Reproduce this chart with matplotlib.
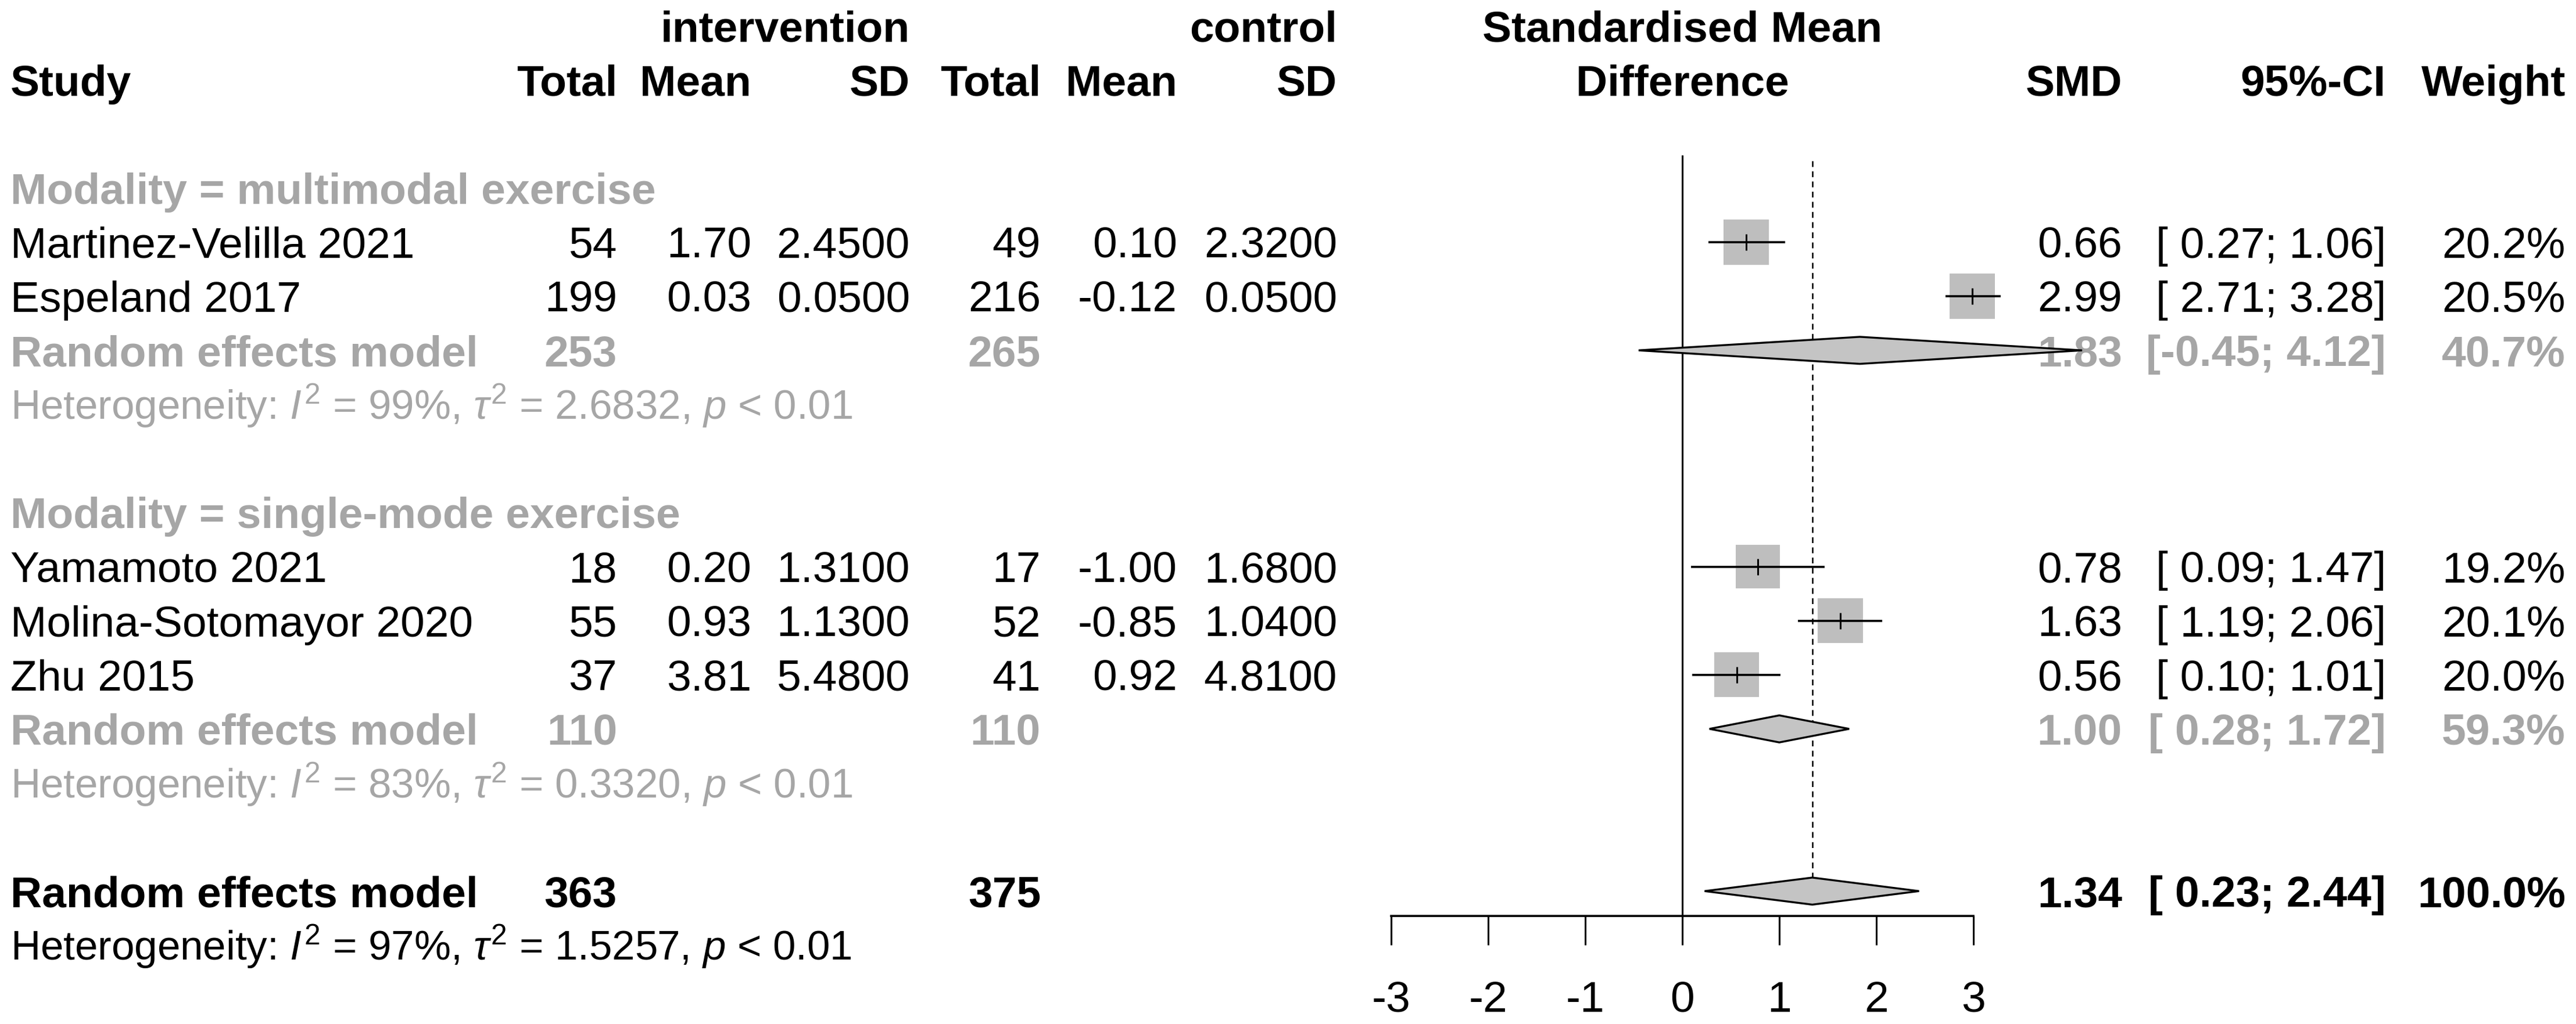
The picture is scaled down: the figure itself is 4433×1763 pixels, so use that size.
import matplotlib
matplotlib.use("Agg")
import matplotlib.pyplot as plt
from matplotlib.patches import Polygon

plt.rcParams['font.family'] = ['Liberation Sans', 'DejaVu Sans']
plt.rcParams['mathtext.fontset'] = 'custom'
plt.rcParams['mathtext.rm'] = 'Liberation Sans'
plt.rcParams['mathtext.it'] = 'Liberation Sans:italic'
plt.rcParams['mathtext.bf'] = 'Liberation Sans:bold'

# ---------------- data ----------------
studies = ["Martinez-Velilla 2021", "Espeland 2017",
           "Yamamoto 2021", "Molina-Sotomayor 2020", "Zhu 2015"]
study_group = [0, 0, 1, 1, 1]
n_int = [54, 199, 18, 55, 37]
mean_int = [1.70, 0.03, 0.20, 0.93, 3.81]
sd_int = [2.45, 0.05, 1.31, 1.13, 5.48]
n_ctl = [49, 216, 17, 52, 41]
mean_ctl = [0.10, -0.12, -1.00, -0.85, 0.92]
sd_ctl = [2.32, 0.05, 1.68, 1.04, 4.81]
smd = [0.66, 2.99, 0.78, 1.63, 0.56]
ci_lo = [0.27, 2.71, 0.09, 1.19, 0.10]
ci_hi = [1.06, 3.28, 1.47, 2.06, 1.01]
weight = [20.2, 20.5, 19.2, 20.1, 20.0]

groups = ["multimodal exercise", "single-mode exercise"]
grp_n_int = [253, 110]
grp_n_ctl = [265, 110]
grp_smd = [1.83, 1.00]
grp_lo = [-0.45, 0.28]
grp_hi = [4.12, 1.72]
grp_weight = [40.7, 59.3]
grp_I2 = [99, 83]
grp_tau2 = ["2.6832", "0.3320"]

tot_n_int = 363
tot_n_ctl = 375
tot_smd = 1.34
tot_lo = 0.23
tot_hi = 2.44
tot_weight = 100.0
tot_I2 = 97
tot_tau2 = "1.5257"

xticks = [-3, -2, -1, 0, 1, 2, 3]

# ---------------- layout ----------------
W, H, DPI = 4433, 1763, 100
ROW_PX = 93.1
ROW0_PX = 323.9          # pixel y of row 0
y_top = (0 - ROW0_PX) / ROW_PX
y_bot = (H - ROW0_PX) / ROW_PX

GRAY_TXT = '#A6A6A6'
SQ_COL = '#BEBEBE'
DIA_COL = '#C4C4C4'
FS = 54
FS_HET = 51

fig = plt.figure(figsize=(W / DPI, H / DPI), dpi=DPI)
tab = fig.add_axes([0, 0, 1, 1])
tab.set_xlim(0, W)
tab.set_ylim(y_bot, y_top)
tab.axis('off')


def capoff(size):
    return 0.716 * size * DPI / 72 / 2 / ROW_PX


def txt(x, r, s, ha='left', bold=False, color='black', size=FS):
    tab.text(x, r + capoff(size), s, ha=ha, va='baseline', fontsize=size,
             fontweight='bold' if bold else 'normal', color=color)


# column x positions (pixels, right edges unless noted)
X_STUDY = 18
X_NI, X_MI, X_SI = 1062, 1293, 1566
X_NC, X_MC, X_SC = 1791, 2026, 2301
X_SMD, X_CI, X_W = 3652, 4106, 4415
X_PLOT_C = 2895


def ci_str(lo, hi):
    return "[" + (" " if lo >= 0 else "") + f"{lo:.2f}; {hi:.2f}]"


# headers
txt(X_SI, -3, "intervention", ha='right', bold=True)
txt(X_SC, -3, "control", ha='right', bold=True)
txt(X_PLOT_C, -3, "Standardised Mean", ha='center', bold=True)
txt(X_STUDY, -2, "Study", bold=True)
for x, s in [(X_NI, "Total"), (X_MI, "Mean"), (X_SI, "SD"),
             (X_NC, "Total"), (X_MC, "Mean"), (X_SC, "SD"),
             (X_SMD, "SMD"), (X_CI, "95%-CI"), (X_W, "Weight")]:
    txt(x, -2, s, ha='right', bold=True)
txt(X_PLOT_C, -2, "Difference", ha='center', bold=True)

# row assignment
study_rows = []
grp_rows = []
r = 0
for g in range(len(groups)):
    txt(X_STUDY, r, f"Modality = {groups[g]}", bold=True, color=GRAY_TXT)
    r += 1
    for i in range(len(studies)):
        if study_group[i] == g:
            study_rows.append(r)
            r += 1
    grp_rows.append(r)
    r += 3
tot_row = r

het_fmt = r"Heterogeneity: $I^2$ = {}%, $\tau^2$ = {}, $p$ < 0.01"

for i, row in enumerate(study_rows):
    txt(X_STUDY, row, studies[i])
    txt(X_NI, row, f"{n_int[i]}", ha='right')
    txt(X_MI, row, f"{mean_int[i]:.2f}", ha='right')
    txt(X_SI, row, f"{sd_int[i]:.4f}", ha='right')
    txt(X_NC, row, f"{n_ctl[i]}", ha='right')
    txt(X_MC, row, f"{mean_ctl[i]:.2f}", ha='right')
    txt(X_SC, row, f"{sd_ctl[i]:.4f}", ha='right')
    txt(X_SMD, row, f"{smd[i]:.2f}", ha='right')
    txt(X_CI, row, ci_str(ci_lo[i], ci_hi[i]), ha='right')
    txt(X_W, row, f"{weight[i]:.1f}%", ha='right')

for g, row in enumerate(grp_rows):
    txt(X_STUDY, row, "Random effects model", bold=True, color=GRAY_TXT)
    txt(X_NI, row, f"{grp_n_int[g]}", ha='right', bold=True, color=GRAY_TXT)
    txt(X_NC, row, f"{grp_n_ctl[g]}", ha='right', bold=True, color=GRAY_TXT)
    txt(X_SMD, row, f"{grp_smd[g]:.2f}", ha='right', bold=True, color=GRAY_TXT)
    txt(X_CI, row, ci_str(grp_lo[g], grp_hi[g]), ha='right', bold=True, color=GRAY_TXT)
    txt(X_W, row, f"{grp_weight[g]:.1f}%", ha='right', bold=True, color=GRAY_TXT)
    txt(X_STUDY, row + 1, het_fmt.format(grp_I2[g], grp_tau2[g]),
        color=GRAY_TXT, size=FS_HET)

txt(X_STUDY, tot_row, "Random effects model", bold=True)
txt(X_NI, tot_row, f"{tot_n_int}", ha='right', bold=True)
txt(X_NC, tot_row, f"{tot_n_ctl}", ha='right', bold=True)
txt(X_SMD, tot_row, f"{tot_smd:.2f}", ha='right', bold=True)
txt(X_CI, tot_row, ci_str(tot_lo, tot_hi), ha='right', bold=True)
txt(X_W, tot_row, f"{tot_weight:.1f}%", ha='right', bold=True)
txt(X_STUDY, tot_row + 1, het_fmt.format(tot_I2, tot_tau2), size=FS_HET)

# ---------------- forest panel ----------------
UNIT_PX = 167.0
left_px = X_PLOT_C - 3 * UNIT_PX
ax = fig.add_axes([left_px / W, 0, 6 * UNIT_PX / W, 1])
ax.set_zorder(5)
ax.patch.set_visible(False)
ax.set_xlim(min(xticks), max(xticks))
ax.set_ylim(y_bot, y_top)

axis_row = tot_row + 0.46
ax.vlines(0, -0.61, axis_row, color='black', lw=2.2)
ax.vlines(tot_smd, -0.5, tot_row - 0.25, color='black', lw=1.8,
          linestyles=(0, (4, 3)))

# CI lines
ax.hlines(study_rows, ci_lo, ci_hi, color='black', lw=2.6, zorder=4,
          clip_on=False)
# squares (area proportional to weight)
ax.scatter(smd, study_rows, s=[155 * w for w in weight], marker='s',
           color=SQ_COL, linewidths=0, zorder=3, clip_on=False)
# point estimate ticks
ax.vlines(smd, [r - 0.15 for r in study_rows], [r + 0.15 for r in study_rows],
          color='black', lw=2.2, zorder=5, clip_on=False)


def diamond(est, lo, hi, row):
    p = Polygon([(lo, row), (est, row - 0.25), (hi, row), (est, row + 0.25)],
                closed=True, facecolor=DIA_COL, edgecolor='black', lw=2.4,
                clip_on=False, zorder=6)
    ax.add_patch(p)


for g, row in enumerate(grp_rows):
    diamond(grp_smd[g], grp_lo[g], grp_hi[g], row)
diamond(tot_smd, tot_lo, tot_hi, tot_row)

# x axis
for s in ['top', 'right', 'left']:
    ax.spines[s].set_visible(False)
ax.spines['bottom'].set_position(('data', axis_row))
ax.spines['bottom'].set_bounds(min(xticks), max(xticks))
ax.spines['bottom'].set_linewidth(2.6)
ax.set_yticks([])
ax.set_xticks(xticks)
ax.set_xticklabels([str(t) for t in xticks])
ax.tick_params(axis='x', direction='out', length=36, width=2.2,
               labelsize=FS, pad=44, colors='black')

fig.savefig("out.png", dpi=DPI)
